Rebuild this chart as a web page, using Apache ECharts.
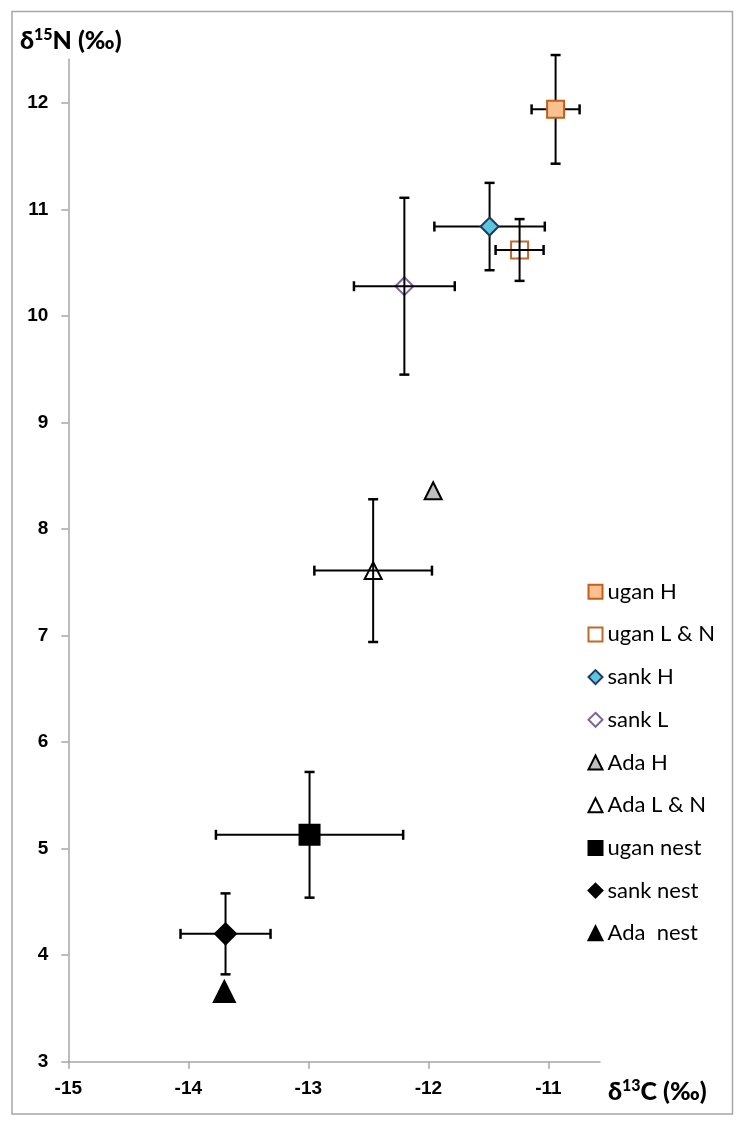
<!DOCTYPE html>
<html>
<head>
<meta charset="utf-8">
<script src="https://cdn.jsdelivr.net/npm/echarts@6/dist/echarts.min.js"></script>
<style>
html,body{margin:0;padding:0;background:#fff;}
#chart{width:744px;height:1125px;}
</style>
</head>
<body>
<div id="chart"></div>
<script>
// ---- data ----
const seriesNames = ['ugan H', 'ugan L & N', 'sank H', 'sank L', 'Ada H', 'Ada L & N', 'ugan nest', 'sank nest', 'Ada  nest'];
const d13C = [-10.94, -11.24, -11.49, -12.20, -11.96, -12.46, -12.99, -13.69, -13.70];
const d15N = [11.94, 10.62, 10.84, 10.28, 8.36, 7.61, 5.13, 4.20, 3.66];
const errC = [0.20, 0.20, 0.46, 0.42, null, 0.49, 0.78, 0.375, null];
const errN = [0.51, 0.29, 0.41, 0.83, null, 0.67, 0.59, 0.38, null];
const xTicks = [-15, -14, -13, -12, -11];
const yTicks = [3, 4, 5, 6, 7, 8, 9, 10, 11, 12];

// ---- styles ----
const markerStyles = [
  {symbol: 'rect',     size: 17, color: '#FAC090', border: '#C0601A'},
  {symbol: 'rect',     size: 17, color: 'rgba(0,0,0,0)', border: '#C0692B'},
  {symbol: 'diamond',  size: 18, color: '#5EC6DA', border: '#1F3864'},
  {symbol: 'diamond',  size: 18, color: 'rgba(0,0,0,0)', border: '#8064A2'},
  {symbol: 'triangle', size: 17, color: '#BFBFBF', border: '#000000'},
  {symbol: 'triangle', size: 17, color: 'rgba(0,0,0,0)', border: '#000000'},
  {symbol: 'rect',     size: 20, color: '#000000', border: '#000000'},
  {symbol: 'diamond',  size: 21, color: '#000000', border: '#000000'},
  {symbol: 'triangle', size: 21, color: '#000000', border: '#000000'}
];

const errData = [];
for (let i = 0; i < seriesNames.length; i++) {
  if (errC[i] != null) errData.push([d13C[i], d15N[i], errC[i], errN[i]]);
}

const CAP = 5;
function renderErr(params, api) {
  const x = api.value(0), y = api.value(1), ex = api.value(2), ey = api.value(3);
  const c = api.coord([x, y]);
  const l = api.coord([x - ex, y]);
  const r = api.coord([x + ex, y]);
  const t = api.coord([x, y + ey]);
  const b = api.coord([x, y - ey]);
  const st = {stroke: '#000', lineWidth: 2};
  const cs = {stroke: '#000', lineWidth: 2.5};
  return {
    type: 'group',
    children: [
      {type: 'line', shape: {x1: l[0], y1: c[1], x2: r[0], y2: c[1]}, style: st},
      {type: 'line', shape: {x1: l[0], y1: c[1] - CAP, x2: l[0], y2: c[1] + CAP}, style: cs},
      {type: 'line', shape: {x1: r[0], y1: c[1] - CAP, x2: r[0], y2: c[1] + CAP}, style: cs},
      {type: 'line', shape: {x1: c[0], y1: t[1], x2: c[0], y2: b[1]}, style: st},
      {type: 'line', shape: {x1: c[0] - CAP, y1: t[1], x2: c[0] + CAP, y2: t[1]}, style: cs},
      {type: 'line', shape: {x1: c[0] - CAP, y1: b[1], x2: c[0] + CAP, y2: b[1]}, style: cs}
    ]
  };
}

const series = [{
  type: 'custom',
  name: '__err',
  renderItem: renderErr,
  data: errData,
  z: 2,
  silent: true,
  animation: false
}];
seriesNames.forEach((n, i) => {
  const m = markerStyles[i];
  series.push({
    type: 'scatter',
    name: n,
    data: [[d13C[i], d15N[i]]],
    symbol: m.symbol,
    symbolSize: m.size,
    itemStyle: {color: m.color, borderColor: m.border, borderWidth: 2, opacity: 1},
    z: (i === 1 || i === 3 || i === 5) ? 1 : 3,
    animation: false
  });
});

const axisGray = '#A6A6A6';
const boldFont = '"Liberation Sans", Arial, sans-serif';
const titleFont = 'Lato, "Liberation Sans", sans-serif';
const legendFont = 'Lato, "Liberation Sans", sans-serif';
const intOnly = v => (Math.abs(v - Math.round(v)) < 1e-6 ? String(Math.round(v)) : '');

const option = {
  backgroundColor: '#ffffff',
  animation: false,
  grid: {left: 68.3, top: 59.3, right: 144, bottom: 63.3, containLabel: false},
  xAxis: {
    type: 'value', min: xTicks[0], max: -10.57, interval: 1,
    axisLine: {show: true, lineStyle: {color: axisGray, width: 1.5}},
    axisTick: {show: true, customValues: xTicks, length: 7, inside: false, lineStyle: {color: axisGray, width: 1.5}},
    axisLabel: {show: true, showMaxLabel: false, formatter: intOnly, margin: 18,
      textStyle: {color: '#000', fontSize: 19, fontWeight: 'bold', fontFamily: boldFont},
      color: '#000', fontSize: 19, fontWeight: 'bold', fontFamily: boldFont},
    splitLine: {show: false}
  },
  yAxis: {
    type: 'value', min: yTicks[0], max: 12.41, interval: 1,
    axisLine: {show: true, lineStyle: {color: axisGray, width: 1.5}},
    axisTick: {show: true, customValues: yTicks, length: 7, lineStyle: {color: axisGray, width: 1.5}},
    axisLabel: {show: true, showMaxLabel: false, formatter: intOnly, margin: 20,
      color: '#000', fontSize: 19, fontWeight: 'bold', fontFamily: boldFont},
    splitLine: {show: false}
  },
  legend: {
    data: seriesNames,
    orient: 'vertical',
    left: 582.5,
    top: 575.7,
    itemWidth: 14,
    itemHeight: 14,
    itemGap: 20.7,
    textStyle: {fontSize: 22, lineHeight: 22, color: '#000', fontFamily: legendFont},
    selectedMode: false
  },
  graphic: [
    {type: 'rect', shape: {x: 12, y: 11.5, width: 720.5, height: 1102.5}, style: {fill: 'none', stroke: '#A6A6A6', lineWidth: 1.5}, silent: true},
    {type: 'text', x: 20, y: 41, style: {
      text: '{m|δ}{s|15}{m|N (‰)}', textVerticalAlign: 'middle',
      rich: {m: {fontSize: 25, fontWeight: 900, fontFamily: titleFont, fill: '#000'},
             s: {fontSize: 16, fontWeight: 900, fontFamily: titleFont, fill: '#000', padding: [0, 0, 12, 0]}}
    }},
    {type: 'text', x: 608, y: 1092, style: {
      text: '{m|δ}{s|13}{m|C (‰)}', textVerticalAlign: 'middle',
      rich: {m: {fontSize: 25, fontWeight: 900, fontFamily: titleFont, fill: '#000'},
             s: {fontSize: 16, fontWeight: 900, fontFamily: titleFont, fill: '#000', padding: [0, 0, 12, 0]}}
    }}
  ],
  series: series
};

const chart = echarts.init(document.getElementById('chart'), null, {renderer: 'canvas'});
chart.setOption(option);
</script>
</body>
</html>
